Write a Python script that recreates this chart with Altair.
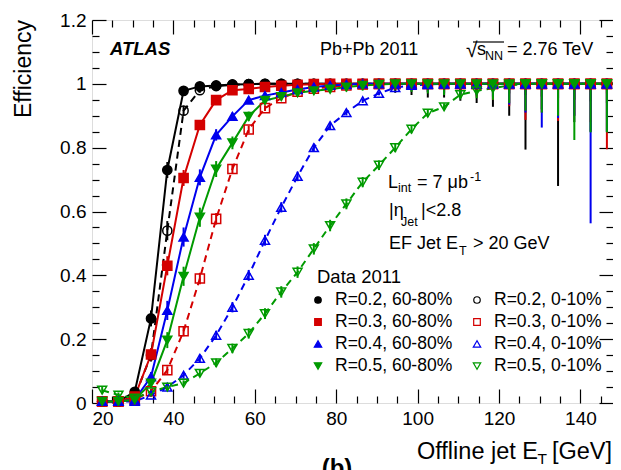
import altair as alt
import pandas as pd

# ---------------- data ----------------
x_bins = [22.5, 26.5, 30.5, 34.5, 38.5, 42.5, 46.5, 50.5, 54.5, 58.5,
          62.5, 66.5, 70.5, 74.5, 78.5, 82.5, 86.5, 90.5, 94.5, 98.5,
          102.5, 106.5, 110.5, 114.5, 118.5, 122.5, 126.5, 130.5, 134.5, 138.5,
          142.5, 146.5, 150.5]

series_names = ["R=0.2, 60-80%", "R=0.2, 0-10%", "R=0.3, 60-80%", "R=0.3, 0-10%",
                "R=0.4, 60-80%", "R=0.4, 0-10%", "R=0.5, 60-80%", "R=0.5, 0-10%"]
series_colors = ["#000000", "#000000", "#d40000", "#d40000",
                 "#0000ee", "#0000ee", "#009a00", "#009a00"]
series_fills = ["#000000", "transparent", "#d40000", "transparent",
                "#0000ee", "transparent", "#009a00", "transparent"]
series_shapes = ["circle", "circle", "square", "square",
                 "triangle-up", "triangle-up", "triangle-down", "triangle-down"]
series_sizes = [85, 80, 90, 85, 115, 110, 115, 110]
legend_sizes = [42, 42, 44, 44, 55, 55, 55, 55]
series_dashed = [False, True, False, True, False, True, False, True]

eff_r02_p = [0.005, 0.005, 0.035, 0.265, 0.73, 0.978, 0.992, 0.995, 0.998, 0.999,
             1.0, 1.0, 1.0, 1.0, 1.0, 1.0, 1.0, 1.0, 1.0, 1.0,
             1.0, 1.0, 1.0, 1.0, 1.0, 1.0, 1.0, 1.0, 1.0, 1.0,
             1.0, 1.0, 1.0]
eff_r02_c = [0.005, 0.005, 0.02, 0.15, 0.54, 0.916, 0.98, 0.993, 0.997, 0.999,
             1.0, 1.0, 1.0, 1.0, 1.0, 1.0, 1.0, 1.0, 1.0, 1.0,
             1.0, 1.0, 1.0, 1.0, 1.0, 1.0, 1.0, 1.0, 1.0, 1.0,
             1.0, 1.0, 1.0]
eff_r03_p = [0.005, 0.005, 0.02, 0.152, 0.43, 0.705, 0.871, 0.949, 0.98, 0.984,
             0.99, 0.994, 0.997, 0.999, 1.0, 1.0, 1.0, 1.0, 1.0, 1.0,
             1.0, 1.0, 1.0, 1.0, 1.0, 1.0, 1.0, 1.0, 1.0, 1.0,
             1.0, 1.0, 1.0]
eff_r03_c = [0.005, 0.005, 0.01, 0.037, 0.103, 0.225, 0.39, 0.577, 0.733, 0.857,
             0.924, 0.955, 0.975, 0.985, 0.99, 0.995, 0.998, 1.0, 1.0, 1.0,
             1.0, 1.0, 1.0, 1.0, 1.0, 1.0, 1.0, 1.0, 1.0, 1.0,
             1.0, 1.0, 1.0]
eff_r04_p = [0.005, 0.005, 0.01, 0.082, 0.29, 0.52, 0.707, 0.84, 0.898, 0.949,
             0.963, 0.973, 0.982, 0.99, 0.995, 0.998, 1.0, 1.0, 1.0, 1.0,
             1.0, 1.0, 1.0, 1.0, 1.0, 1.0, 1.0, 1.0, 1.0, 1.0,
             1.0, 1.0, 1.0]
eff_r04_c = [0.005, 0.005, 0.005, 0.025, 0.05, 0.087, 0.14, 0.212, 0.30, 0.40,
             0.51, 0.613, 0.71, 0.80, 0.869, 0.91, 0.947, 0.97, 0.988, 0.995,
             0.998, 1.0, 1.0, 1.0, 1.0, 1.0, 1.0, 1.0, 1.0, 1.0,
             1.0, 1.0, 1.0]
eff_r05_p = [0.005, 0.005, 0.01, 0.062, 0.197, 0.397, 0.582, 0.733, 0.815, 0.898,
             0.948, 0.96, 0.972, 0.978, 0.983, 0.99, 0.995, 0.998, 1.0, 1.0,
             1.0, 1.0, 1.0, 1.0, 1.0, 1.0, 1.0, 1.0, 1.0, 1.0,
             1.0, 1.0, 1.0]
eff_r05_c = [0.04, 0.025, 0.015, 0.035, 0.05, 0.062, 0.093, 0.126, 0.171, 0.218,
             0.28, 0.348, 0.41, 0.483, 0.556, 0.624, 0.692, 0.745, 0.80, 0.858,
             0.908, 0.928, 0.966, 0.978, 0.986, 0.995, 1.0, 1.0, 1.0, 1.0,
             1.0, 1.0, 1.0]

# statistical uncertainty (upper part capped at efficiency 1)
err_r02_p = [0.003, 0.003, 0.01, 0.025, 0.025, 0.008, 0.005, 0.004, 0.003, 0.003,
             0.004, 0.005, 0.006, 0.008, 0.01, 0.012, 0.015, 0.02, 0.028, 0.035,
             0.043, 0.043, 0.053, 0.06, 0.072, 0.10, 0.206, 0.08, 0.32, 0.12,
             0.15, 0.15, 0.15]
err_r02_c = [0.003, 0.003, 0.008, 0.02, 0.03, 0.015, 0.008, 0.005, 0.004, 0.003,
             0.003, 0.004, 0.005, 0.006, 0.007, 0.008, 0.01, 0.012, 0.014, 0.016,
             0.018, 0.02, 0.022, 0.025, 0.028, 0.03, 0.035, 0.04, 0.045, 0.05,
             0.055, 0.06, 0.06]
err_r03_p = [0.003, 0.003, 0.008, 0.02, 0.03, 0.025, 0.015, 0.01, 0.007, 0.006,
             0.005, 0.005, 0.006, 0.007, 0.008, 0.01, 0.012, 0.014, 0.016, 0.02,
             0.025, 0.03, 0.035, 0.04, 0.05, 0.07, 0.113, 0.09, 0.116, 0.1,
             0.12, 0.205, 0.25]
err_r03_c = [0.002, 0.002, 0.004, 0.008, 0.012, 0.016, 0.018, 0.018, 0.015, 0.012,
             0.009, 0.007, 0.006, 0.005, 0.005, 0.004, 0.004, 0.004, 0.005, 0.005,
             0.006, 0.006, 0.007, 0.008, 0.009, 0.01, 0.012, 0.014, 0.016, 0.02,
             0.025, 0.03, 0.03]
err_r04_p = [0.003, 0.003, 0.006, 0.015, 0.03, 0.03, 0.025, 0.018, 0.012, 0.01,
             0.008, 0.007, 0.007, 0.008, 0.01, 0.012, 0.014, 0.016, 0.018, 0.02,
             0.025, 0.03, 0.033, 0.036, 0.04, 0.065, 0.09, 0.137, 0.107, 0.1,
             0.437, 0.15, 0.12]
err_r04_c = [0.002, 0.002, 0.002, 0.005, 0.008, 0.01, 0.012, 0.014, 0.016, 0.017,
             0.017, 0.016, 0.015, 0.013, 0.011, 0.009, 0.007, 0.006, 0.005, 0.004,
             0.004, 0.004, 0.005, 0.005, 0.006, 0.007, 0.008, 0.01, 0.012, 0.014,
             0.016, 0.018, 0.02]
err_r05_p = [0.003, 0.003, 0.006, 0.015, 0.025, 0.03, 0.03, 0.025, 0.02, 0.015,
             0.012, 0.01, 0.01, 0.01, 0.012, 0.014, 0.016, 0.018, 0.02, 0.025,
             0.03, 0.035, 0.045, 0.045, 0.05, 0.06, 0.084, 0.09, 0.1, 0.176,
             0.152, 0.152, 0.12]
err_r05_c = [0.01, 0.008, 0.005, 0.006, 0.008, 0.009, 0.011, 0.013, 0.015, 0.016,
             0.017, 0.018, 0.018, 0.018, 0.018, 0.017, 0.016, 0.015, 0.014, 0.013,
             0.012, 0.011, 0.01, 0.009, 0.008, 0.007, 0.006, 0.006, 0.006, 0.006,
             0.006, 0.006, 0.006]

eff_lists = [eff_r02_p, eff_r02_c, eff_r03_p, eff_r03_c,
             eff_r04_p, eff_r04_c, eff_r05_p, eff_r05_c]
err_lists = [err_r02_p, err_r02_c, err_r03_p, err_r03_c,
             err_r04_p, err_r04_c, err_r05_p, err_r05_c]

x_major_ticks = [20, 40, 60, 80, 100, 120, 140]
x_minor_ticks = [25, 30, 35, 45, 50, 55, 65, 70, 75, 85, 90, 95,
                 105, 110, 115, 125, 130, 135, 145]
y_major_ticks = [0, 0.2, 0.4, 0.6, 0.8, 1.0, 1.2]
y_minor_ticks = [0.05, 0.1, 0.15, 0.25, 0.3, 0.35, 0.45, 0.5, 0.55,
                 0.65, 0.7, 0.75, 0.85, 0.9, 0.95, 1.05, 1.1, 1.15]

# ---------------- build tables ----------------
frames = []
for i, name in enumerate(series_names):
    df = pd.DataFrame({"x": x_bins, "eff": eff_lists[i], "err": err_lists[i]})
    df["lo"] = df["eff"] - df["err"]
    df["hi"] = (df["eff"] + df["err"]).clip(upper=1.0)
    df["series"] = name
    df["idx"] = i
    frames.append(df)
all_df = pd.concat(frames, ignore_index=True)
one_row = pd.DataFrame({"k": [0]})

FONT = "Liberation Sans"
# the page is 605 px wide inside its margins: the frame is cut just before 150 GeV
xs = alt.Scale(domain=[20, 148], nice=False, zero=False)
ys = alt.Scale(domain=[0, 1.2], nice=False, zero=False)

layers = []

# error bars
for i, name in enumerate(series_names):
    layers.append(
        alt.Chart(frames[i]).mark_rule(strokeWidth=2, color=series_colors[i], clip=True).encode(
            x=alt.X("x:Q", scale=xs, axis=None),
            y=alt.Y("lo:Q", scale=ys, axis=None),
            y2="hi:Q",
        )
    )

# connecting lines
for i, name in enumerate(series_names):
    kw = dict(strokeWidth=2, color=series_colors[i], clip=True)
    if series_dashed[i]:
        kw["strokeDash"] = [7, 5]
    layers.append(
        alt.Chart(frames[i]).mark_line(**kw).encode(
            x=alt.X("x:Q", scale=xs, axis=None),
            y=alt.Y("eff:Q", scale=ys, axis=None),
        )
    )

# markers
points = alt.Chart(all_df).mark_point(opacity=1, strokeWidth=1.5).encode(
    x=alt.X("x:Q", scale=xs, axis=None),
    y=alt.Y("eff:Q", scale=ys, axis=None),
    shape=alt.Shape("series:N", scale=alt.Scale(domain=series_names, range=series_shapes), legend=None),
    stroke=alt.Stroke("series:N", scale=alt.Scale(domain=series_names, range=series_colors), legend=None),
    fill=alt.Fill("series:N", scale=alt.Scale(domain=series_names, range=series_fills), legend=None),
    size=alt.Size("series:N", scale=alt.Scale(domain=series_names, range=series_sizes), legend=None),
    order=alt.Order("idx:Q"),
)
layers.append(points)

# ---------------- axes (labels + inward ticks) ----------------
base = frames[0]


def axis_layer(xax, yax):
    return alt.Chart(base).mark_point(opacity=0).encode(
        x=alt.X("x:Q", scale=xs, axis=xax),
        y=alt.Y("eff:Q", scale=ys, axis=yax),
    )


common = dict(grid=False, title=None, domain=False)
layers.append(axis_layer(
    alt.Axis(values=x_major_ticks, ticks=False, labels=True, labelFont=FONT, labelFontSize=19,
             labelColor="black", labelPadding=6, labelFlush=True, labelOverlap=False, orient="bottom", **common),
    alt.Axis(values=y_major_ticks, ticks=False, labels=True, labelFont=FONT, labelFontSize=19, format="~g",
             labelColor="black", labelPadding=6, labelFlush=False, labelOverlap=False, orient="left", **common),
))
for vals_x, vals_y, size in [(x_major_ticks, y_major_ticks, 14), (x_minor_ticks, y_minor_ticks, 7)]:
    for ox, oy in [("bottom", "left"), ("top", "right")]:
        layers.append(axis_layer(
            alt.Axis(values=vals_x, labels=False, ticks=True, tickSize=size, offset=-size, orient=ox,
                     tickColor="black", tickWidth=1.2, **common),
            alt.Axis(values=vals_y, labels=False, ticks=True, tickSize=size, offset=-size, orient=oy,
                     tickColor="black", tickWidth=1.2, **common),
        ))

# ---------------- texts ----------------


def txt(s, x, y, size=18, **kw):
    align = kw.pop("align", "left")
    return alt.Chart(one_row).mark_text(text=s, font=FONT, fontSize=size, align=align,
                                        baseline="middle", color="black", **kw).encode(
        x=alt.value(x), y=alt.value(y))


texts = [
    txt("ATLAS", 18, 29, 18.5, fontWeight="bold", fontStyle="italic"),
    txt("Pb+Pb 2011", 228, 30, 18),
    txt("\u221a", 374, 31, 21),
    txt("s", 385, 30, 18),
    txt("NN", 393, 36, 12.5),
    txt("= 2.76 TeV", 415, 30, 18),
    txt("L", 296, 163, 18),
    txt("int", 306, 168, 12.5),
    txt("= 7 \u03bcb", 325, 163, 18),
    txt("-1", 378, 157, 12.5),
    txt("|\u03b7", 297, 191, 18),
    txt("Jet", 309, 202, 12.5),
    txt("|<2.8", 329, 191, 18),
    txt("EF Jet E", 297, 224, 18),
    txt("T", 367, 231, 12.5),
    txt("> 20 GeV", 381, 224, 18),
    txt("Efficiency", -68, 0, 23, align="right", angle=270),
    txt("[GeV]", 520, 432, 23.5, align="right"),
    txt("T", 455, 439, 15.5, align="right"),
    txt("Offline jet E", 446, 432, 23.5, align="right"),
    txt("(b)", 245, 449, 24, align="center", fontWeight="bold"),
]
overline = alt.Chart(one_row).mark_rule(color="black", strokeWidth=1.2).encode(
    x=alt.value(381), x2=alt.value(412), y=alt.value(22))
layers.extend(texts)
layers.append(overline)

# ---------------- legend (built from marks) ----------------
legend_x0 = 226
legend_col_dx = 159
legend_y0 = 280
legend_dy = 22
layers.append(txt("Data 2011", legend_x0 - 1, legend_y0 - 23, 18.5))
for i, name in enumerate(series_names):
    row, col = i // 2, i % 2
    sx = legend_x0 + col * legend_col_dx
    sy = legend_y0 + row * legend_dy
    layers.append(
        alt.Chart(one_row).mark_point(
            shape=series_shapes[i], size=legend_sizes[i], opacity=1, strokeWidth=1.2,
            stroke=series_colors[i], fill=series_fills[i], filled=series_fills[i] != "transparent",
        ).encode(x=alt.value(sx), y=alt.value(sy))
    )
    layers.append(txt(name, sx + 17, sy, 17.5))

chart = alt.layer(*layers).resolve_axis(x="independent", y="independent").properties(
    width=521, height=383,
    autosize=alt.AutoSizeParams(type="none"),
    padding={"left": 84, "top": 12, "right": 0, "bottom": 87},
).configure_view(stroke="black", strokeWidth=1.5).configure(background="white")

chart.save("out.html", embed_options={"renderer": "svg", "actions": False})
